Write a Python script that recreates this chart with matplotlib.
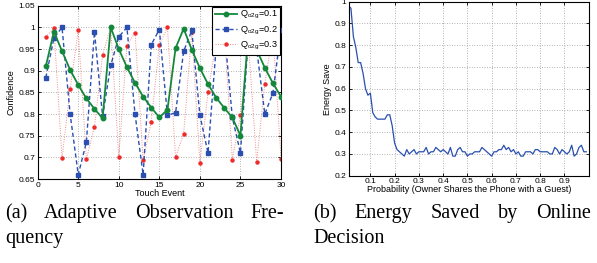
import matplotlib
matplotlib.use("Agg")
import matplotlib.pyplot as plt
import numpy as np

# ---- data (left chart) ----
touch_event = list(range(1, 31))
conf_q01 = [0.910, 0.990, 0.945, 0.902, 0.867, 0.836, 0.812, 0.790, 1.000, 0.950,
            0.908, 0.872, 0.840, 0.815, 0.792, 0.810, 0.952, 0.997, 0.948, 0.906,
            0.869, 0.838, 0.814, 0.792, 0.750, 0.995, 0.948, 0.907, 0.871, 0.840]
conf_q02 = [0.884, 0.975, 1.000, 0.800, 0.660, 0.735, 0.990, 0.795, 0.912, 0.978,
            1.000, 0.800, 0.660, 0.960, 0.995, 0.797, 0.803, 0.945, 0.993, 0.797,
            0.710, 0.953, 0.995, 0.792, 0.710, 0.985, 0.950, 0.800, 0.848, 0.993]
conf_q03 = [0.978, 0.998, 0.698, 0.858, 0.993, 0.696, 0.770, 0.937, 1.000, 0.700,
            0.958, 0.988, 0.693, 0.782, 0.960, 1.000, 0.700, 0.755, 0.990, 0.688,
            0.850, 0.965, 0.995, 0.695, 0.797, 0.960, 0.689, 0.870, 0.990, 0.697]
legend_labels = [r"Q$_{\mathregular{o2g}}$=0.1", r"Q$_{\mathregular{o2g}}$=0.2", r"Q$_{\mathregular{o2g}}$=0.3"]
left_xticks = [0, 5, 10, 15, 20, 25, 30]
left_yticks = [0.65, 0.7, 0.75, 0.8, 0.85, 0.9, 0.95, 1.0, 1.05]
left_yticklabels = ["0.65", "0.7", "0.75", "0.8", "0.85", "0.9", "0.95", "1", "1.05"]

# ---- data (right chart) ----
prob = [round(0.01 * i, 2) for i in range(1, 100)]
energy_save = [0.98, 0.97, 0.84, 0.79, 0.72, 0.72, 0.67, 0.60, 0.57, 0.58,
               0.49, 0.47, 0.46, 0.46, 0.46, 0.46, 0.48, 0.48, 0.43, 0.35,
               0.32, 0.31, 0.30, 0.29, 0.32, 0.30, 0.31, 0.32, 0.30, 0.31,
               0.31, 0.31, 0.33, 0.30, 0.31, 0.31, 0.33, 0.32, 0.31, 0.32,
               0.31, 0.30, 0.33, 0.29, 0.29, 0.32, 0.33, 0.31, 0.31, 0.29,
               0.30, 0.30, 0.31, 0.31, 0.31, 0.33, 0.32, 0.31, 0.30, 0.29,
               0.31, 0.31, 0.32, 0.32, 0.34, 0.32, 0.33, 0.31, 0.32, 0.30,
               0.31, 0.29, 0.29, 0.31, 0.31, 0.31, 0.30, 0.32, 0.32, 0.31,
               0.31, 0.31, 0.31, 0.30, 0.30, 0.33, 0.32, 0.30, 0.32, 0.31,
               0.30, 0.31, 0.34, 0.29, 0.30, 0.33, 0.34, 0.31, 0.31]
right_xticks = [0.1, 0.2, 0.3, 0.4, 0.5, 0.6, 0.7, 0.8, 0.9]
right_xticklabels = ["0.1", "0.2", "0.3", "0.4", "0.5", "0.6", "0.7", "0.8", "0.9"]
right_yticks = [0.2, 0.3, 0.4, 0.5, 0.6, 0.7, 0.8, 0.9, 1.0]
right_yticklabels = ["0.2", "0.3", "0.4", "0.5", "0.6", "0.7", "0.8", "0.9", "1"]

caption_a = ["(a) Adaptive Observation Fre-", "quency"]
caption_b = ["(b) Energy Saved by Online", "Decision"]

plt.rcParams['font.family'] = ['Liberation Sans', 'DejaVu Sans']
plt.rcParams['mathtext.fontset'] = 'custom'
plt.rcParams['mathtext.rm'] = 'Liberation Sans'
plt.rcParams['mathtext.it'] = 'Liberation Sans'

W, H = 597, 263
fig = plt.figure(figsize=(W / 100, H / 100), dpi=100)

def style(ax):
    ax.tick_params(direction='in', length=2.5, width=0.6, labelsize=6,
                   top=True, right=True, pad=2)
    for s in ax.spines.values():
        s.set_linewidth(0.8)
    ax.grid(True, linestyle=(0, (1, 2)), color='#9a9a9a', linewidth=0.6)
    ax.set_axisbelow(True)

# left axes
axL = fig.add_axes([37.7 / W, 1 - 179 / H, (281 - 37.7) / W, (179 - 5.7) / H])
green = '#14883a'
blue = '#2a4fb0'
red = '#ee2a2a'
axL.plot(touch_event, conf_q03, linestyle=(0, (1, 1.5)), color='#f08a8a', linewidth=0.7,
         marker='o', markersize=2.2, markerfacecolor=red, markeredgecolor=red,
         label=legend_labels[2], zorder=2)
axL.plot(touch_event, conf_q02, linestyle=(0, (3, 2)), color=blue, linewidth=1.0,
         marker='s', markersize=2.8, markerfacecolor=blue, markeredgecolor=blue,
         label=legend_labels[1], zorder=3)
axL.plot(touch_event, conf_q01, linestyle='-', color=green, linewidth=1.3,
         marker='o', markersize=3.2, markerfacecolor=green, markeredgecolor=green,
         label=legend_labels[0], zorder=4)
axL.set_xlim(0, 30)
axL.set_ylim(0.65, 1.05)
axL.set_xticks(left_xticks)
axL.set_yticks(left_yticks)
axL.set_yticklabels(left_yticklabels)
style(axL)
axL.set_xlabel("Touch Event", fontsize=6.5, labelpad=0)
axL.set_ylabel("Confidence", fontsize=6.5, labelpad=2)
h, l = axL.get_legend_handles_labels()
leg = axL.legend(h[::-1], l[::-1], loc='upper right', fontsize=6.6, frameon=True,
                 fancybox=False, edgecolor='black', framealpha=1,
                 borderaxespad=0.1, handlelength=2.4, handletextpad=0.3,
                 labelspacing=0.35, borderpad=0.3)
leg.get_frame().set_linewidth(0.8)

# right axes
axR = fig.add_axes([349 / W, 1 - 175.7 / H, (588.7 - 349) / W, (175.7 - 1.7) / H])
axR.plot(prob, energy_save, color=blue, linewidth=0.9)
axR.set_xlim(0.012, 1.0)
axR.set_ylim(0.2, 1.0)
axR.set_xticks(right_xticks)
axR.set_xticklabels(right_xticklabels)
axR.set_yticks(right_yticks)
axR.set_yticklabels(right_yticklabels)
style(axR)
axR.set_xlabel("Probability (Owner Shares the Phone with a Guest)", fontsize=6.5, labelpad=0)
axR.set_ylabel("Energy Save", fontsize=6.5, labelpad=2)

# captions (justified first line, left-aligned second line)
cap_kw = dict(fontsize=14.5, family=['Liberation Serif', 'DejaVu Serif'], va='baseline')
fig.canvas.draw()
renderer = fig.canvas.get_renderer()

def justified(line, x0, x1, y):
    words = line.split()
    texts = [fig.text(0, 1 - y / H, w, ha='left', **cap_kw) for w in words]
    widths = [t.get_window_extent(renderer).width for t in texts]
    gap = (x1 - x0 - sum(widths)) / (len(words) - 1)
    x = x0
    for t, wd in zip(texts, widths):
        t.set_x(x / W)
        x += wd + gap

justified(caption_a[0], 5, 284, 218)
fig.text(5 / W, 1 - 243 / H, caption_a[1], ha='left', **cap_kw)
justified(caption_b[0], 313, 591, 218)
fig.text(313 / W, 1 - 243 / H, caption_b[1], ha='left', **cap_kw)

fig.savefig("out.png", dpi=100)
